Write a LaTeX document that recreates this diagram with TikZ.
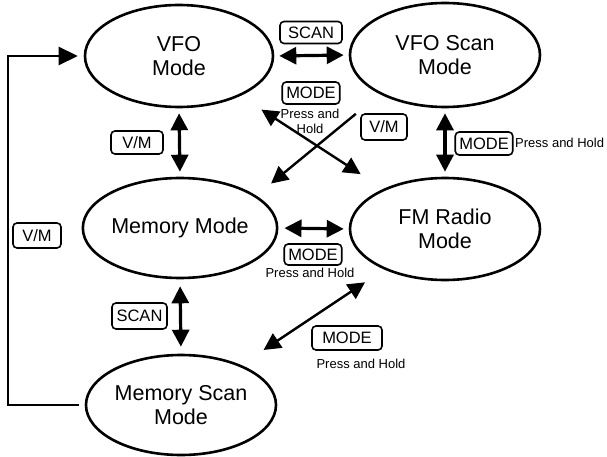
\documentclass[tikz,border=0pt]{standalone}
\usepackage{fontspec}
\setmainfont{Liberation Sans}
\usetikzlibrary{arrows.meta,shapes.geometric}
\begin{document}
\begin{tikzpicture}[x=1pt,y=-1pt,
  state/.style={ellipse,draw,line width=2.6pt,inner sep=0pt,align=center,font=\fontsize{21.5}{24.5}\selectfont},
  keybox/.style={draw,rounded corners=4pt,line width=1.6pt,inner xsep=4pt,inner ysep=0pt,minimum height=22pt,font=\fontsize{16.5}{18}\selectfont},
  note/.style={inner sep=0pt,align=center,font=\fontsize{13}{15}\selectfont},
  biarrow/.style={{Triangle[length=17pt,width=17pt]}-{Triangle[length=17pt,width=17pt]},line width=3.2pt},
  thinbi/.style={{Triangle[length=17pt,width=17pt]}-{Triangle[length=17pt,width=17pt]},line width=2.4pt},
  thinone/.style={-{Triangle[length=17pt,width=17pt]},line width=2.4pt},
  loopline/.style={-{Triangle[length=19pt,width=18pt]},line width=2.6pt}
]
\useasboundingbox (0,0) rectangle (607,457);

% states
\node[state,minimum width=188pt,minimum height=102pt] (vfo) at (179,56) {VFO\\Mode};
\node[state,minimum width=190pt,minimum height=104pt] (vscan) at (445,55) {VFO Scan\\Mode};
\node[state,minimum width=188pt,minimum height=100pt] (mem) at (180,228) {Memory Mode};
\node[state,minimum width=190pt,minimum height=102pt] (fm) at (445,229) {FM Radio\\Mode};
\node[state,minimum width=190pt,minimum height=100pt] (mscan) at (181,405) {Memory Scan\\Mode};

% connectors
\draw[biarrow,shorten <=5pt,shorten >=5pt] (vfo.east) -- (vscan.west);
\draw[biarrow,shorten <=5pt,shorten >=5pt] (vfo.south) -- (mem.north);
\draw[biarrow,shorten <=5pt,shorten >=5pt] (vscan.south) -- (fm.north);
\draw[biarrow,shorten <=6pt,shorten >=5pt] (mem.east) -- (fm.west);
\draw[biarrow,shorten <=7pt,shorten >=7pt] (mem.south) -- (mscan.north);
\draw[thinbi,shorten <=25pt,shorten >=27pt] (vfo) -- (fm);
\draw[thinone,shorten <=31pt,shorten >=19pt] (vscan.211) -- (mem.23);
\draw[thinbi,shorten <=27pt,shorten >=23pt] (mscan) -- (fm);
\coordinate (loopx) at (8,0);
\draw[loopline,shorten <=6pt,shorten >=6pt] (mscan.west) -- (mscan.west -| loopx) |- (vfo.west);

% key labels
\node[keybox,minimum width=62pt] (kscan1) at (311,32.5) {SCAN};
\node[keybox,minimum width=56pt] (kmode1) at (311,93) {MODE};
\node[note] (pmode1) at (310,121) {Press and\\Hold};
\node[keybox,minimum width=46pt,minimum height=26pt] (kvm1) at (384,127) {V/M};
\node[keybox,minimum width=52pt,minimum height=23pt] (kvm2) at (137,142.5) {V/M};
\node[keybox,minimum width=54pt,minimum height=23pt] (kmode2) at (484,143.5) {MODE};
\node[note,anchor=west] (pmode2) at (515,142.5) {Press and Hold};
\node[keybox,minimum width=52pt,minimum height=21pt] (kmode3) at (313,254.5) {MODE};
\node[note] (pmode3) at (310,272.5) {Press and Hold};
\node[keybox,minimum width=55pt,minimum height=26pt] (kscan2) at (139.5,316) {SCAN};
\node[keybox,minimum width=48pt,minimum height=25pt] (kvm3) at (37,235.5) {V/M};
\node[keybox,minimum width=70pt,minimum height=24pt] (kmode4) at (347,338) {MODE};
\node[note] (pmode4) at (361,364) {Press and Hold};
\end{tikzpicture}
\end{document}
